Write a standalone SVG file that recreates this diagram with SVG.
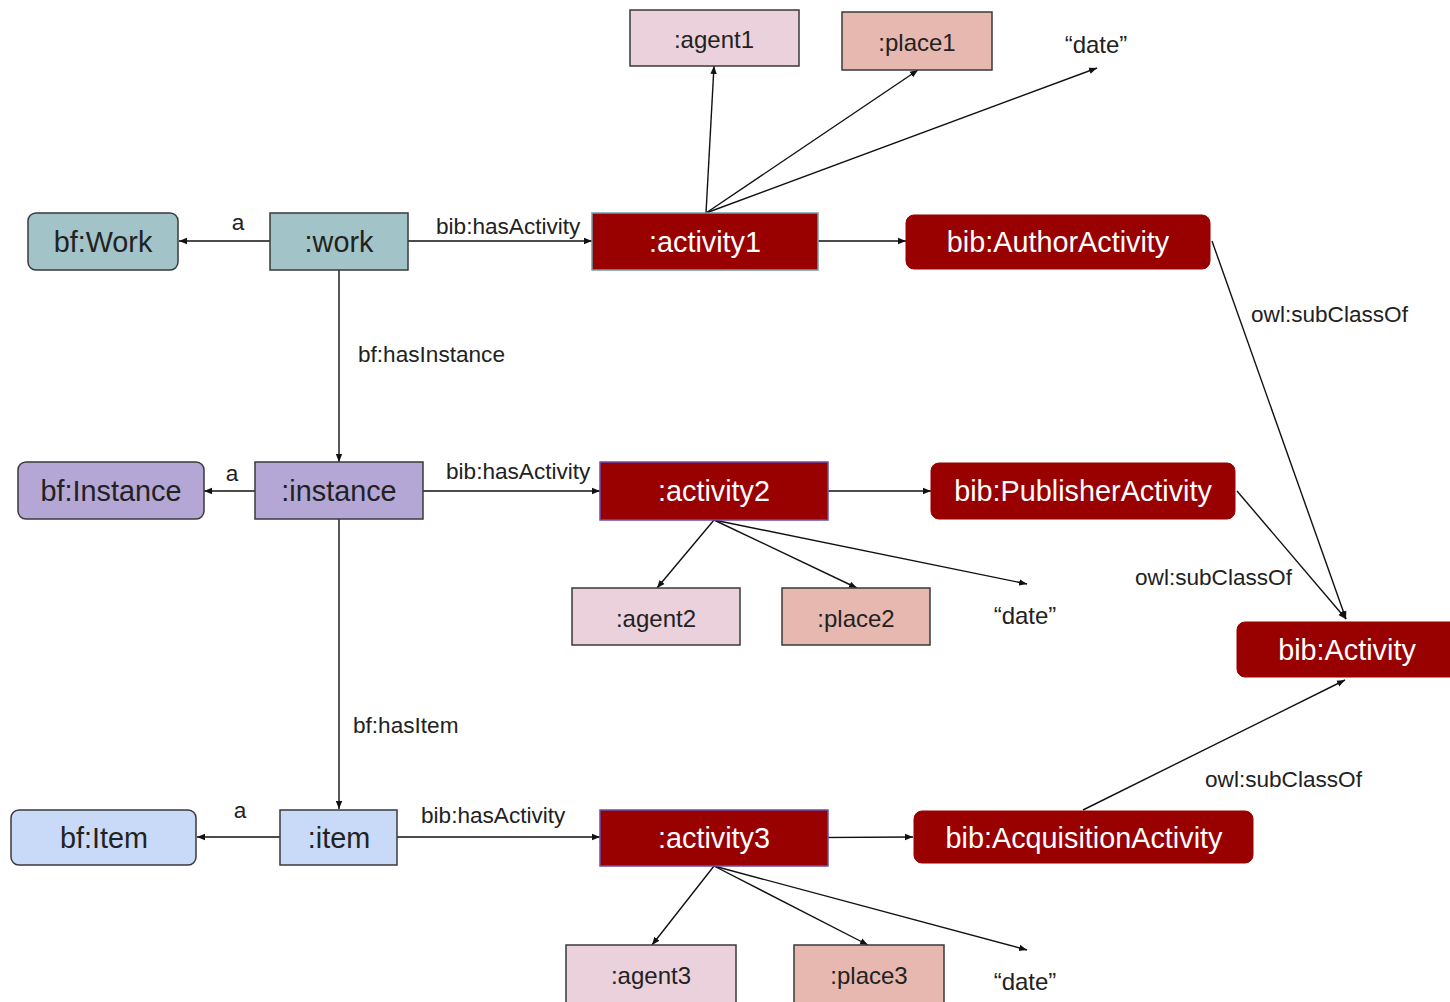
<svg xmlns="http://www.w3.org/2000/svg" width="1450" height="1002" viewBox="0 0 1450 1002">
<style>
text{font-family:"Liberation Sans",Arial,sans-serif;}
.n{stroke:#3a3a3a;stroke-width:1.5;}
.big{font-size:28.8px;text-anchor:middle;dominant-baseline:central;fill:#222;}
.wt{font-size:28.8px;text-anchor:middle;dominant-baseline:central;fill:#fff;}
.sm{font-size:24px;text-anchor:middle;dominant-baseline:central;fill:#222;}
.lbl{font-size:22.6px;fill:#222;}
.c line{stroke:#111;stroke-width:1.4;fill:none;}
.work{fill:#a2c4c9;}
.inst{fill:#b4a7d6;}
.item{fill:#c9daf8;}
.agent{fill:#ead1dc;}
.place{fill:#e6b8af;}
.act{fill:#990000;stroke-width:1.5;}
.cls{fill:#990000;stroke:#990000;}
</style>
<defs>
<marker id="ah" viewBox="0 0 10 10" refX="10" refY="5" markerWidth="8" markerHeight="8" markerUnits="userSpaceOnUse" orient="auto">
<path d="M0,1 L10,5 L0,9 z" fill="#111"/>
</marker>
</defs>
<rect width="1450" height="1002" fill="#fff"/>

<g id="connectors" class="c">
<line x1="270" y1="241" x2="179" y2="241" marker-end="url(#ah)"/>
<line x1="408" y1="241" x2="592" y2="241" marker-end="url(#ah)"/>
<line x1="818" y1="241" x2="906" y2="241" marker-end="url(#ah)"/>
<line x1="706" y1="213" x2="714" y2="66" marker-end="url(#ah)"/>
<line x1="706" y1="213" x2="918" y2="70" marker-end="url(#ah)"/>
<line x1="706" y1="213" x2="1097" y2="68" marker-end="url(#ah)"/>
<line x1="339" y1="270" x2="339" y2="462" marker-end="url(#ah)"/>
<line x1="255" y1="491" x2="204" y2="491" marker-end="url(#ah)"/>
<line x1="423" y1="491" x2="600" y2="491" marker-end="url(#ah)"/>
<line x1="828" y1="491" x2="931" y2="491" marker-end="url(#ah)"/>
<line x1="714" y1="520" x2="657" y2="588" marker-end="url(#ah)"/>
<line x1="714" y1="520" x2="857" y2="588" marker-end="url(#ah)"/>
<line x1="714" y1="520" x2="1027" y2="584" marker-end="url(#ah)"/>
<line x1="339" y1="519" x2="339" y2="809" marker-end="url(#ah)"/>
<line x1="280" y1="837" x2="197" y2="837" marker-end="url(#ah)"/>
<line x1="397" y1="837" x2="600" y2="837" marker-end="url(#ah)"/>
<line x1="747" y1="838" x2="913" y2="837" marker-end="url(#ah)"/>
<line x1="714" y1="866" x2="652" y2="945" marker-end="url(#ah)"/>
<line x1="714" y1="866" x2="868" y2="945" marker-end="url(#ah)"/>
<line x1="714" y1="866" x2="1027" y2="950" marker-end="url(#ah)"/>
<line x1="1212" y1="241" x2="1346" y2="619" marker-end="url(#ah)"/>
<line x1="1237" y1="491" x2="1346" y2="619" marker-end="url(#ah)"/>
<line x1="1083" y1="810" x2="1345" y2="680" marker-end="url(#ah)"/>
<text class="lbl" x="238" y="230" text-anchor="middle">a</text>
<text class="lbl" x="436" y="234">bib:hasActivity</text>
<text class="lbl" x="358" y="362">bf:hasInstance</text>
<text class="lbl" x="232" y="481" text-anchor="middle">a</text>
<text class="lbl" x="446" y="479">bib:hasActivity</text>
<text class="lbl" x="353" y="733">bf:hasItem</text>
<text class="lbl" x="240" y="818" text-anchor="middle">a</text>
<text class="lbl" x="421" y="823">bib:hasActivity</text>
<text class="lbl" x="1251" y="322">owl:subClassOf</text>
<text class="lbl" x="1135" y="585">owl:subClassOf</text>
<text class="lbl" x="1205" y="787">owl:subClassOf</text>
</g>

<g id="bfWork"><rect class="n work" x="28" y="213" width="150" height="57" rx="8"/><text class="big" x="103" y="242">bf:Work</text></g>
<g id="work"><rect class="n work" x="270" y="213" width="138" height="57"/><text class="big" x="339" y="242">:work</text></g>
<g id="activity1"><rect class="act" stroke="#6fa0aa" x="592" y="213" width="226" height="57"/><text class="wt" x="705" y="242">:activity1</text></g>
<g id="authorActivity"><rect class="cls" x="906" y="215" width="304" height="54" rx="8"/><text class="wt" x="1058" y="242">bib:AuthorActivity</text></g>
<g id="agent1"><rect class="n agent" x="630" y="10" width="169" height="56"/><text class="sm" x="714" y="39">:agent1</text></g>
<g id="place1"><rect class="n place" x="842" y="12" width="150" height="58"/><text class="sm" x="917" y="42">:place1</text></g>
<g id="date1"><text class="sm" x="1096" y="44">“date”</text></g>

<g id="bfInstance"><rect class="n inst" x="18" y="462" width="186" height="57" rx="8"/><text class="big" x="111" y="491">bf:Instance</text></g>
<g id="instance"><rect class="n inst" x="255" y="462" width="168" height="57"/><text class="big" x="339" y="491">:instance</text></g>
<g id="activity2"><rect class="act" stroke="#6a4fb0" x="600" y="462" width="228" height="58"/><text class="wt" x="714" y="491">:activity2</text></g>
<g id="publisherActivity"><rect class="cls" x="931" y="463" width="304" height="56" rx="8"/><text class="wt" x="1083" y="491">bib:PublisherActivity</text></g>
<g id="agent2"><rect class="n agent" x="572" y="588" width="168" height="57"/><text class="sm" x="656" y="618">:agent2</text></g>
<g id="place2"><rect class="n place" x="782" y="588" width="148" height="57"/><text class="sm" x="856" y="618">:place2</text></g>
<g id="date2"><text class="sm" x="1025" y="615">“date”</text></g>

<g id="bibActivity"><rect class="cls" x="1237" y="622" width="230" height="55" rx="8"/><text class="wt" x="1347" y="650">bib:Activity</text></g>

<g id="bfItem"><rect class="n item" x="11" y="810" width="185" height="55" rx="8"/><text class="big" x="104" y="838">bf:Item</text></g>
<g id="item"><rect class="n item" x="280" y="810" width="117" height="55"/><text class="big" x="339" y="838">:item</text></g>
<g id="activity3"><rect class="act" stroke="#6a4fb0" x="600" y="810" width="228" height="56"/><text class="wt" x="714" y="838">:activity3</text></g>
<g id="acquisitionActivity"><rect class="cls" x="914" y="811" width="339" height="52" rx="8"/><text class="wt" x="1084" y="838">bib:AcquisitionActivity</text></g>
<g id="agent3"><rect class="n agent" x="566" y="945" width="170" height="62"/><text class="sm" x="651" y="975">:agent3</text></g>
<g id="place3"><rect class="n place" x="794" y="945" width="150" height="62"/><text class="sm" x="869" y="975">:place3</text></g>
<g id="date3"><text class="sm" x="1025" y="981">“date”</text></g>
</svg>
